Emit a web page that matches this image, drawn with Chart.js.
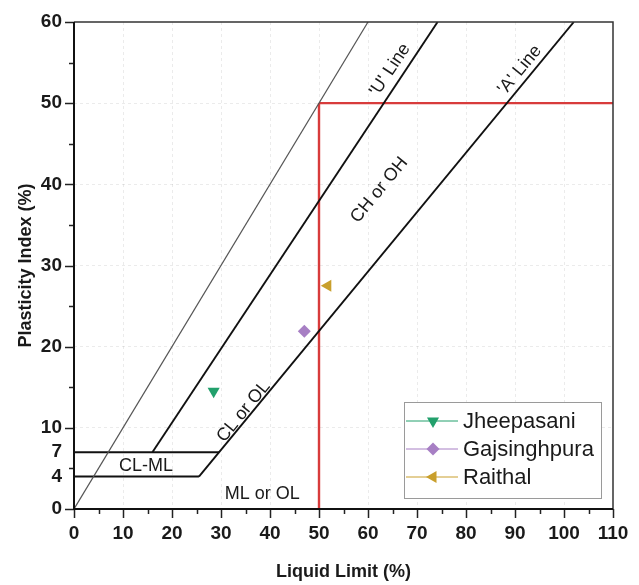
<!DOCTYPE html>
<html>
<head>
<meta charset="utf-8">
<title>Plasticity chart</title>
<script src="https://cdn.jsdelivr.net/npm/chart.js@4.4.1/dist/chart.umd.min.js"></script>
<style>
  html, body { margin: 0; padding: 0; background: #fff; }
</style>
</head>
<body>
<canvas id="plasticity" width="639" height="585"></canvas>
<script>
// sample points (liquid limit %, plasticity index %)
const sites = ["Jheepasani", "Gajsinghpura", "Raithal"];
const siteLL = [28.5, 47.0, 51.8];
const sitePI = [14.5, 21.9, 27.5];
const siteColors = ["#22a06c", "#a77fc4", "#c99f2c"];

// classification boundaries, each as [start, end]
const diagLL = [0, 60];      const diagPI = [0, 60];
const uLineLL = [16, 74.2];  const uLinePI = [7, 60];
const aLineLL = [25.5, 102]; const aLinePI = [4, 60];
const clml7LL = [0, 29.6];   const clml7PI = [7, 7];
const clml4LL = [0, 25.5];   const clml4PI = [4, 4];
const llCutLL = [50, 50];    const llCutPI = [0, 50];
const piCutLL = [50, 110];   const piCutPI = [50, 50];

// zone names, where they sit, and which line they run along
const zoneText = ["'U' Line", "'A' Line", "CH or OH", "CL or OL", "CL-ML", "ML or OL"];
const zoneLL = [64.5, 91.0, 62.3, 34.6, 14.7, 38.4];
const zonePI = [54.1, 54.1, 39.3, 12.0, 5.3, 1.9];
const zoneAlong = ["u", "a", "a", "a", null, null];

// axis ticks
const xTicks = [0, 5, 10, 15, 20, 25, 30, 35, 40, 45, 50, 55, 60, 65, 70, 75, 80, 85, 90, 95, 100, 105, 110];
const xLabels = [0, 10, 20, 30, 40, 50, 60, 70, 80, 90, 100, 110];
const yTicks = [0, 4, 5, 7, 10, 15, 20, 25, 30, 35, 40, 45, 50, 55, 60];
const yLabels = [0, 4, 7, 10, 20, 30, 40, 50, 60];
const yMarks = [0, 5, 10, 15, 20, 25, 30, 35, 40, 45, 50, 55, 60];

const FONT = "'Liberation Sans', Arial, sans-serif";

const pts = (lls, pis) => lls.map((v, i) => ({ x: v, y: pis[i] }));

const markerStyles = [
  { pointStyle: "triangle", rotation: 180, radius: 7 },
  { pointStyle: "rectRot", rotation: 0, radius: 6.5 },
  { pointStyle: "triangle", rotation: 270, radius: 7 }
];

const siteSets = sites.map((name, i) => ({
  label: name,
  data: [{ x: siteLL[i], y: sitePI[i] }],
  backgroundColor: siteColors[i],
  borderColor: siteColors[i],
  borderWidth: 0,
  pointStyle: markerStyles[i].pointStyle,
  rotation: markerStyles[i].rotation,
  pointRadius: markerStyles[i].radius,
  pointHoverRadius: markerStyles[i].radius
}));

const boundary = (lls, pis, color, width) => ({
  label: "",
  data: pts(lls, pis),
  showLine: true,
  borderColor: color,
  borderWidth: width,
  pointRadius: 0,
  pointHoverRadius: 0,
  tension: 0,
  fill: false
});

const lineSets = [
  boundary(diagLL, diagPI, "#555", 1.2),
  boundary(uLineLL, uLinePI, "#111", 1.9),
  boundary(aLineLL, aLinePI, "#111", 1.9),
  boundary(clml7LL, clml7PI, "#111", 1.9),
  boundary(clml4LL, clml4PI, "#111", 1.9),
  boundary(llCutLL, llCutPI, "#d83b3b", 2.4),
  boundary(piCutLL, piCutPI, "#d83b3b", 2.4)
];

// frame, tick marks, zone labels and the boxed legend
const decor = {
  id: "decor",
  afterDatasetsDraw(chart) {
    const { ctx, scales: { x, y } } = chart;
    const along = {
      u: [uLineLL, uLinePI],
      a: [aLineLL, aLinePI]
    };
    ctx.save();
    ctx.font = "18px " + FONT;
    ctx.fillStyle = "#1a1a1a";
    ctx.textAlign = "center";
    ctx.textBaseline = "middle";
    zoneText.forEach((t, i) => {
      let ang = 0;
      if (zoneAlong[i]) {
        const [lls, pis] = along[zoneAlong[i]];
        const dx = x.getPixelForValue(lls[1]) - x.getPixelForValue(lls[0]);
        const dy = y.getPixelForValue(pis[1]) - y.getPixelForValue(pis[0]);
        ang = Math.atan2(dy, dx);
      }
      ctx.save();
      ctx.translate(x.getPixelForValue(zoneLL[i]), y.getPixelForValue(zonePI[i]));
      ctx.rotate(ang);
      ctx.fillText(t, 0, 0);
      ctx.restore();
    });
    ctx.restore();
  },
  afterDraw(chart) {
    const { ctx, chartArea: a, scales: { x, y } } = chart;
    ctx.save();

    // tick marks
    ctx.strokeStyle = "#222";
    ctx.lineWidth = 1.5;
    ctx.beginPath();
    xTicks.forEach(v => {
      const px = Math.round(x.getPixelForValue(v)) + 0.5;
      const len = v % 10 === 0 ? 9 : 5;
      ctx.moveTo(px, a.bottom);
      ctx.lineTo(px, a.bottom + len);
    });
    yMarks.forEach(v => {
      const py = Math.round(y.getPixelForValue(v)) + 0.5;
      const len = v % 10 === 0 ? 9 : 5;
      ctx.moveTo(a.left, py);
      ctx.lineTo(a.left - len, py);
    });
    ctx.stroke();

    // plot frame
    ctx.strokeStyle = "#333";
    ctx.lineWidth = 1.5;
    ctx.beginPath();
    ctx.moveTo(a.left, a.top);
    ctx.lineTo(a.right, a.top);
    ctx.lineTo(a.right, a.bottom);
    ctx.stroke();
    ctx.strokeStyle = "#111";
    ctx.lineWidth = 2;
    ctx.beginPath();
    ctx.moveTo(a.left, a.top);
    ctx.lineTo(a.left, a.bottom);
    ctx.lineTo(a.right, a.bottom);
    ctx.stroke();

    // legend box
    const bw = 197, bh = 96;
    const bx = a.right - 12 - bw, by = a.bottom - 11 - bh;
    ctx.fillStyle = "#fff";
    ctx.fillRect(bx, by, bw, bh);
    ctx.strokeStyle = "#9a9a9a";
    ctx.lineWidth = 1;
    ctx.strokeRect(bx + 0.5, by + 0.5, bw, bh);
    ctx.font = "22px " + FONT;
    ctx.textAlign = "left";
    ctx.textBaseline = "middle";
    siteSets.forEach((ds, i) => {
      const ry = by + 19 + i * 28;
      ctx.strokeStyle = ds.borderColor;
      ctx.lineWidth = 1;
      ctx.beginPath();
      ctx.moveTo(bx + 2, ry);
      ctx.lineTo(bx + 54, ry);
      ctx.stroke();
      ctx.fillStyle = ds.backgroundColor;
      Chart.helpers.drawPoint(ctx, {
        pointStyle: ds.pointStyle,
        rotation: ds.rotation,
        radius: ds.pointRadius,
        borderWidth: 0
      }, bx + 29, ry);
      ctx.fillStyle = "#1a1a1a";
      ctx.fillText(ds.label, bx + 59, ry + 1);
    });
    ctx.restore();
  }
};

new Chart(document.getElementById("plasticity"), {
  type: "scatter",
  data: { datasets: [...siteSets, ...lineSets] },
  plugins: [decor],
  options: {
    responsive: false,
    animation: false,
    layout: { padding: { left: 0, top: 22, right: 26, bottom: 0 } },
    plugins: {
      legend: { display: false },
      tooltip: { enabled: false }
    },
    scales: {
      x: {
        type: "linear",
        min: 0,
        max: 110,
        afterBuildTicks: s => { s.ticks = xTicks.map(v => ({ value: v })); },
        afterFit: s => { s.height = 76; },
        border: { display: false, dash: [3, 3] },
        grid: {
          tickLength: 9,
          tickColor: "transparent",
          color: c => (c.tick && c.tick.value % 10 === 0 && c.tick.value > 0 && c.tick.value < 110) ? "rgba(0,0,0,0.08)" : "transparent"
        },
        ticks: {
          autoSkip: false,
          maxRotation: 0,
          padding: 4,
          color: "#1a1a1a",
          font: { family: FONT, size: 19, weight: "bold" },
          callback: v => xLabels.includes(v) ? v : ""
        },
        title: {
          display: true,
          text: "Liquid Limit (%)",
          color: "#1a1a1a",
          padding: { top: 0, bottom: 2 },
          font: { family: FONT, size: 18, weight: "bold" }
        }
      },
      y: {
        type: "linear",
        min: 0,
        max: 60,
        afterBuildTicks: s => { s.ticks = yTicks.map(v => ({ value: v })); },
        afterFit: s => { s.width = 74; },
        border: { display: false, dash: [3, 3] },
        grid: {
          tickLength: 9,
          tickColor: "transparent",
          color: c => (c.tick && c.tick.value % 10 === 0 && c.tick.value > 0 && c.tick.value < 60) ? "rgba(0,0,0,0.08)" : "transparent"
        },
        ticks: {
          autoSkip: false,
          padding: 3,
          color: "#1a1a1a",
          font: { family: FONT, size: 19, weight: "bold" },
          callback: v => yLabels.includes(v) ? v : ""
        },
        title: {
          display: true,
          text: "Plasticity Index (%)",
          color: "#1a1a1a",
          padding: { top: 15, bottom: 0 },
          font: { family: FONT, size: 18, weight: "bold" }
        }
      }
    }
  }
});
</script>
</body>
</html>
